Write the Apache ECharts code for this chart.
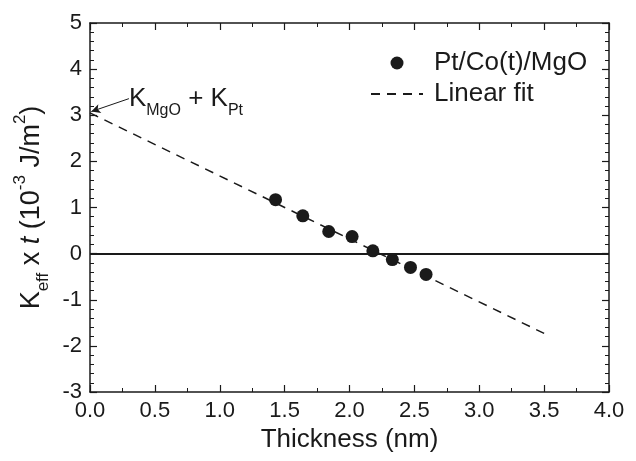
<!DOCTYPE html>
<html><head><meta charset="utf-8">
<script src="https://cdn.jsdelivr.net/npm/echarts@6/dist/echarts.min.js"></script>
<style>html,body{margin:0;padding:0;background:#fff}#c{width:636px;height:461px}</style>
</head><body><div id="c"></div>
<script>
const thickness = [1.43, 1.64, 1.84, 2.02, 2.18, 2.33, 2.47, 2.59];
const keffT = [1.17, 0.82, 0.48, 0.37, 0.06, -0.13, -0.30, -0.45];
const fitX = [0, 3.5];
const fitY = [3.05, -1.73];
const seriesNames = ['Pt/Co(t)/MgO', 'Linear fit'];
const annotFrom = [0.3, 3.36];
const annotTo = [0.01, 3.08];

const FONT = "'Liberation Sans', Arial, sans-serif";
const INK = '#1a1a1a';
const chart = echarts.init(document.getElementById('c'), null, {renderer: 'canvas'});

const axisCommon = {
  axisLine: {show: true, onZero: false, lineStyle: {color: INK, width: 1.5}},
  axisTick: {show: true, inside: true, length: 7, lineStyle: {color: INK, width: 1.2}},
  minorTick: {show: true, length: 4, lineStyle: {color: INK, width: 1}},
  splitLine: {show: false}
};

const option = {
  backgroundColor: '#fff',
  animation: false,
  grid: {left: 90, top: 23, width: 519, height: 369, containLabel: false},
  legend: {
    orient: 'vertical',
    left: 365, top: 45,
    itemWidth: 52, itemHeight: 13, itemGap: 5,
    textStyle: {fontFamily: FONT, fontSize: 26, color: INK, padding: [0, 0, 0, 6]},
    data: [
      {name: seriesNames[0], icon: 'circle', itemStyle: {opacity: 1}},
      {name: seriesNames[1], itemStyle: {opacity: 0}}
    ]
  },
  xAxis: [
    Object.assign({}, axisCommon, {
      type: 'value', min: 0, max: 4, interval: 0.5, position: 'bottom',
      minorTick: Object.assign({}, axisCommon.minorTick, {splitNumber: 2}),
      axisLabel: {fontFamily: FONT, fontSize: 22, color: INK, margin: 8, formatter: v => v.toFixed(1)},
      name: 'Thickness (nm)', nameLocation: 'middle', nameGap: 32,
      nameTextStyle: {fontFamily: FONT, fontSize: 26, color: INK}
    }),
    Object.assign({}, axisCommon, {
      type: 'value', min: 0, max: 4, interval: 0.5, position: 'top',
      minorTick: Object.assign({}, axisCommon.minorTick, {splitNumber: 2}),
      axisLabel: {show: false}
    })
  ],
  yAxis: [
    Object.assign({}, axisCommon, {
      type: 'value', min: -3, max: 5, interval: 1, position: 'left',
      minorTick: Object.assign({}, axisCommon.minorTick, {splitNumber: 5}),
      axisLabel: {fontFamily: FONT, fontSize: 22, color: INK, margin: 8},
      name: '{m|K}{sub|eff}{m| x }{i|t}{m| (10}{sup|-3}{m| J/m}{sup|2}{m|)}',
      nameLocation: 'middle', nameGap: 38, nameRotate: 90,
      nameTextStyle: {
        fontFamily: FONT, fontSize: 27, color: INK,
        rich: {
          m: {fontFamily: FONT, fontSize: 27, color: INK, lineHeight: 40},
          i: {fontFamily: FONT, fontSize: 27, color: INK, fontStyle: 'italic', lineHeight: 40},
          sub: {fontFamily: FONT, fontSize: 17, color: INK, lineHeight: 12, verticalAlign: 'bottom'},
          sup: {fontFamily: FONT, fontSize: 17, color: INK, lineHeight: 12, verticalAlign: 'top'}
        }
      }
    }),
    Object.assign({}, axisCommon, {
      type: 'value', min: -3, max: 5, interval: 1, position: 'right',
      minorTick: Object.assign({}, axisCommon.minorTick, {splitNumber: 5}),
      axisLabel: {show: false}
    })
  ],
  series: [
    {
      name: seriesNames[0], type: 'scatter', symbol: 'circle', symbolSize: 13,
      itemStyle: {color: INK, opacity: 1},
      data: thickness.map((x, i) => [x, keffT[i]]),
      z: 5
    },
    {
      name: seriesNames[1], type: 'line', showSymbol: false, symbol: 'none',
      lineStyle: {color: INK, width: 1.5, type: [9, 7]},
      itemStyle: {color: INK},
      data: fitX.map((x, i) => [x, fitY[i]]),
      markLine: {
        silent: true, symbol: 'none', label: {show: false},
        lineStyle: {color: INK, width: 2, type: 'solid'},
        data: [{yAxis: 0}]
      },
      z: 3
    },
    {
      type: 'line', silent: true, showSymbol: false, symbol: 'none', data: [],
      markLine: {
        silent: true, symbol: ['none', 'arrow'], symbolSize: [7, 9],
        label: {show: false},
        lineStyle: {color: INK, width: 1, type: 'solid'},
        data: [[{coord: annotFrom}, {coord: annotTo}]]
      },
      markPoint: {
        silent: true, symbol: 'circle', symbolSize: 0,
        label: {
          show: true, position: 'right', distance: 0,
          formatter: '{m|K}{sub|MgO}{m| + K}{sub|Pt}',
          rich: {
            m: {fontFamily: FONT, fontSize: 26, color: INK, lineHeight: 40},
            sub: {fontFamily: FONT, fontSize: 16, color: INK, lineHeight: 10, verticalAlign: 'bottom'}
          }
        },
        data: [{coord: annotFrom}]
      }
    }
  ]
};
chart.setOption(option);
</script>
</body></html>
